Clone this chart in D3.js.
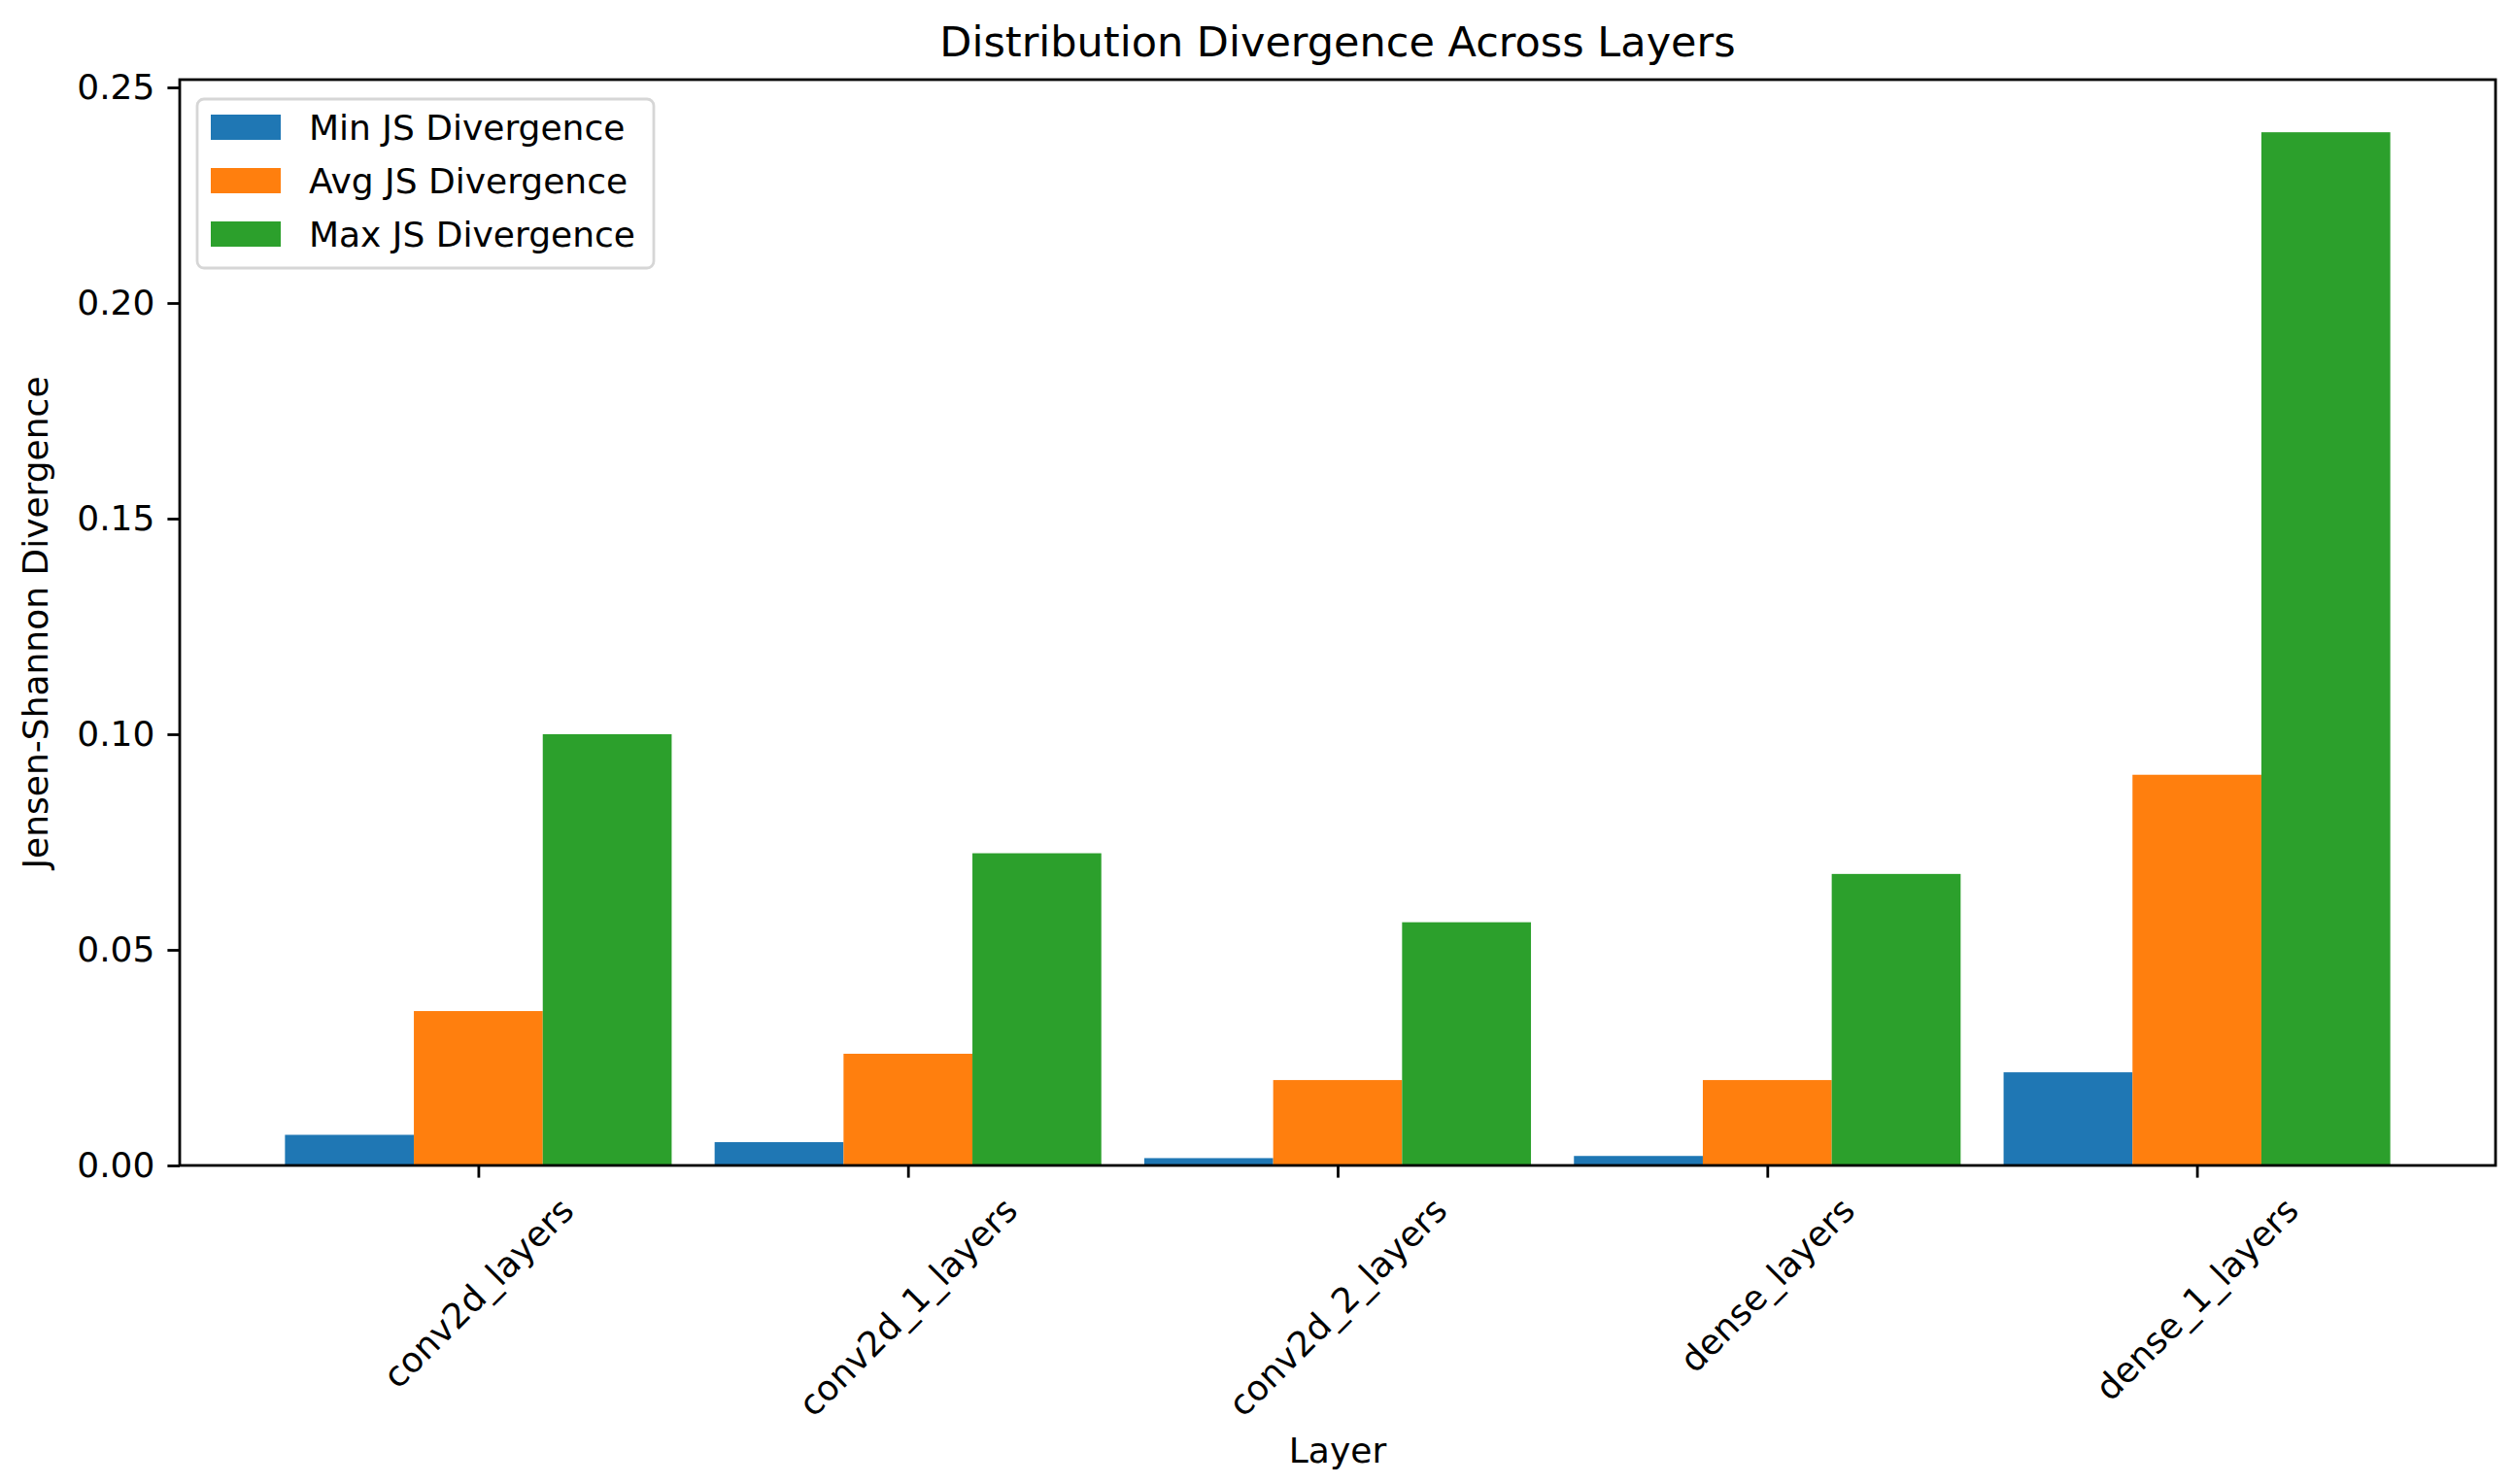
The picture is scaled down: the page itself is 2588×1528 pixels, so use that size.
<!DOCTYPE html>
<html>
<head>
<meta charset="utf-8">
<script src="https://cdn.jsdelivr.net/npm/d3@7"></script>
<style>
  body { margin: 0; background: #fff; }
  text { font-family: "DejaVu Sans", sans-serif; fill: #000; }
</style>
</head>
<body>
<svg id="chart" width="2588" height="1528"></svg>
<script>
const layers = ["conv2d_layers", "conv2d_1_layers", "conv2d_2_layers", "dense_layers", "dense_1_layers"];
const seriesNames = ["Min JS Divergence", "Avg JS Divergence", "Max JS Divergence"];
const minJS = [0.0071, 0.0054, 0.0017, 0.0022, 0.0216];
const avgJS = [0.0358, 0.0259, 0.0198, 0.0198, 0.0906];
const maxJS = [0.1000, 0.0724, 0.0564, 0.0676, 0.2396];
const yTicks = [0, 0.05, 0.10, 0.15, 0.20, 0.25];
const colors = ["#1f77b4", "#ff7f0e", "#2ca02c"];

const series = [minJS, avgJS, maxJS];

const margin = { left: 185, right: 2569, top: 82, bottom: 1200 };
const barW = 0.3;
const fs = 36;

const svg = d3.select("#chart");

// linear x so bars sit like matplotlib (index +/- offsets)
const x = d3.scaleLinear().domain([-0.695, layers.length - 1 + 0.695]).range([margin.left, margin.right]);
const y = d3.scaleLinear().domain([0, 0.2518]).range([margin.bottom, margin.top]);

// bars
series.forEach((vals, si) => {
  svg.append("g")
    .selectAll("rect")
    .data(vals)
    .join("rect")
    .attr("x", (d, i) => x(i + (si - 1) * barW - barW / 2))
    .attr("width", x(barW) - x(0))
    .attr("y", d => y(d))
    .attr("height", d => y(0) - y(d))
    .attr("fill", colors[si]);
});

// y axis
const yAxis = d3.axisLeft(y).tickValues(yTicks).tickFormat(d3.format(".2f")).tickSize(12.6).tickPadding(13);
const gy = svg.append("g").attr("transform", `translate(${margin.left},0)`).call(yAxis);
gy.select(".domain").remove();
gy.selectAll(".tick line").attr("stroke", "#000").attr("stroke-width", 2.8);
gy.selectAll(".tick text").style("font-size", fs + "px").attr("fill", "#000");

// x axis
const xAxis = d3.axisBottom(x).tickValues(d3.range(layers.length)).tickFormat(() => "").tickSize(12.6);
const gx = svg.append("g").attr("transform", `translate(0,${margin.bottom})`).call(xAxis);
gx.select(".domain").remove();
gx.selectAll(".tick line").attr("stroke", "#000").attr("stroke-width", 2.8);

// rotated category labels, centred on the tick like matplotlib rotation=45
const labTop = margin.bottom + 25;
layers.forEach((name, i) => {
  const t = svg.append("text")
    .attr("text-anchor", "middle")
    .attr("dominant-baseline", "central")
    .style("font-size", fs + "px")
    .text(name);
  const w = t.node().getComputedTextLength();
  const h = fs * 1.16;
  const half = (w + h) * Math.SQRT1_2 / 2;
  t.attr("transform", `translate(${x(i)},${labTop + half}) rotate(-45)`);
});

// frame
svg.append("rect")
  .attr("x", margin.left).attr("y", margin.top)
  .attr("width", margin.right - margin.left).attr("height", margin.bottom - margin.top)
  .attr("fill", "none").attr("stroke", "#000").attr("stroke-width", 2.8);

// titles
svg.append("text")
  .attr("x", (margin.left + margin.right) / 2).attr("y", 58)
  .attr("text-anchor", "middle").style("font-size", "43px")
  .text("Distribution Divergence Across Layers");

svg.append("text")
  .attr("x", (margin.left + margin.right) / 2).attr("y", 1506)
  .attr("text-anchor", "middle").style("font-size", fs + "px")
  .text("Layer");

svg.append("text")
  .attr("transform", `translate(49,${(margin.top + margin.bottom) / 2}) rotate(-90)`)
  .attr("text-anchor", "middle").style("font-size", fs + "px")
  .text("Jensen-Shannon Divergence");

// legend
const lg = svg.append("g").attr("transform", "translate(203,102)");
lg.append("rect")
  .attr("width", 470).attr("height", 174).attr("rx", 7)
  .attr("fill", "#fff").attr("fill-opacity", 0.8)
  .attr("stroke", "#d6d6d6").attr("stroke-width", 2.8);
seriesNames.forEach((s, i) => {
  lg.append("rect")
    .attr("x", 14).attr("y", 16 + i * 55)
    .attr("width", 72).attr("height", 26)
    .attr("fill", colors[i]);
  lg.append("text")
    .attr("x", 115).attr("y", 29 + i * 55)
    .attr("dominant-baseline", "central")
    .style("font-size", fs + "px")
    .text(s);
});
</script>
</body>
</html>
